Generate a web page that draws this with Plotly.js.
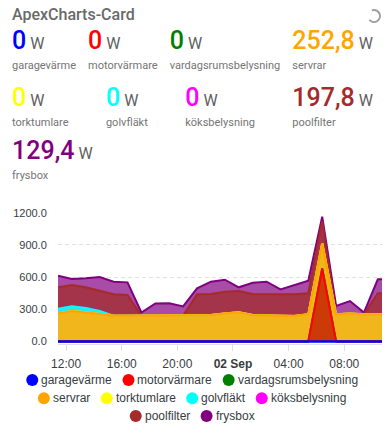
<!DOCTYPE html>
<html>
<head>
<meta charset="utf-8">
<script src="https://cdn.plot.ly/plotly-3.0.1.min.js"></script>
<style>
html,body{margin:0;padding:0;background:#fff;width:389px;height:442px;overflow:hidden;}
#chart{position:absolute;left:0;top:0;width:389px;height:442px;}
#header{position:absolute;left:0;top:0;width:389px;height:190px;z-index:5;pointer-events:none;font-family:Roboto,"Noto Sans",sans-serif;}
.title{position:absolute;left:12px;top:7px;font-size:16px;line-height:16px;font-weight:500;color:#6a6a6a;white-space:nowrap;}
.spin{position:absolute;left:366px;top:8px;}
.row{position:absolute;left:12px;width:361px;display:flex;justify-content:space-between;}
.item{display:flex;flex-direction:column;}
.val{font-size:25px;line-height:25px;font-weight:500;white-space:nowrap;}
.unit{font-size:16px;color:#5f5f5f;margin-left:4px;font-weight:400;}
.lbl{font-size:11px;line-height:11px;color:#757575;margin-top:4px;white-space:nowrap;}
</style>
</head>
<body>
<div id="chart"></div>
<div id="header">
  <div class="title" id="title"></div>
  <svg class="spin" width="16" height="16"><path d="M 5.9 2.4 A 6 6 0 1 1 3.4 11.9" stroke="#9e9e9e" stroke-width="2" fill="none"/></svg>
</div>
<script>
// ---------------- DATA ----------------
const cardTitle = 'ApexCharts-Card';
const unit = 'W';
const seriesNames = ['garagevärme','motorvärmare','vardagsrumsbelysning','servrar','torktumlare','golvfläkt','köksbelysning','poolfilter','frysbox'];
const seriesColors = ['#0000FF','#FF0000','#008000','#FFA500','#FFFF00','#00FFFF','#FF00FF','#A52A2A','#800080'];

const times = [
 '2022-09-01 11:25','2022-09-01 12:25','2022-09-01 13:25','2022-09-01 14:25','2022-09-01 15:25',
 '2022-09-01 16:25','2022-09-01 17:25','2022-09-01 18:25','2022-09-01 19:25','2022-09-01 20:25',
 '2022-09-01 21:25','2022-09-01 22:25','2022-09-01 23:25','2022-09-02 00:25','2022-09-02 01:25',
 '2022-09-02 02:25','2022-09-02 03:25','2022-09-02 04:25','2022-09-02 05:25','2022-09-02 06:25',
 '2022-09-02 07:25','2022-09-02 08:25','2022-09-02 09:25','2022-09-02 10:25','2022-09-02 10:43'
];

const garagevarme  = [0,0,0,0,0,0,0,0,0,0,0,0,0,0,0,0,0,0,0,0,0,0,0,0,0];
const motorvarmare = [0,0,0,0,0,0,0,0,0,0,0,0,0,0,0,0,0,0,0,680,0,0,0,0,0];
const vardagsrum   = [0,0,0,0,0,0,0,0,0,0,0,0,0,0,0,0,0,0,0,0,0,0,0,0,0];
const servrar      = [262,284,272,256,241,241,241,247,247,241,241,247,262,272,247,241,241,238,253,235,253,262,253,253,252.8];
const torktumlare  = [0,0,0,0,0,0,0,0,0,0,0,0,0,0,0,0,0,0,0,0,0,0,0,0,0];
const golvflakt    = [42,45,40,28,0,0,0,0,0,0,0,0,0,0,0,0,0,0,0,0,0,0,0,0,0];
const koksbelysning= [0,0,0,0,0,0,0,0,0,0,0,0,0,0,0,0,0,0,0,0,0,0,0,0,0];
const poolfilter   = [201,197,193,189,199,192,0,0,0,0,199,196,202,198,196,199,199,202,196,205,0,0,0,196,197.8];
const frysbox      = [108,56,84,128,117,118,29,108,109,86,55,114,112,35,105,117,46,86,118,43,78,115,17,130,129.4];

const xTickVals = ['2022-09-01 12:00','2022-09-01 16:00','2022-09-01 20:00','2022-09-02 00:00','2022-09-02 04:00','2022-09-02 08:00'];
const xTickText = ['12:00','16:00','20:00','<b>02 Sep</b>','04:00','08:00'];
const yTickVals = [0,300,600,900,1200];

// ---------------- STYLE ----------------
const bandFills = ['#0000FF','#CC3A08','#008000','#F1B61C','#F5D800','#2EE3F2','#E040E0','#A4344A','#A84CA8'];
const lineWidths = [2.5,2,2,2.2,2,2,2,2,2];
const legendRows = [[0,1,2],[3,4,5,6],[7,8]];
const legendRowY = [380,398.3,416];
const legendCenterX = 192;
const headerRows = [[0,1,2,3],[4,5,6,7],[8]];
const headerRowTop = [28,85,137.5];

const allSeries = [garagevarme,motorvarmare,vardagsrum,servrar,torktumlare,golvflakt,koksbelysning,poolfilter,frysbox];

// ---------------- HEADER ----------------
document.getElementById('title').textContent = cardTitle;
const header = document.getElementById('header');
function fmt(v){ return v === 0 ? '0' : v.toFixed(1).replace('.', ','); }
headerRows.forEach((row, r) => {
  const div = document.createElement('div');
  div.className = 'row';
  div.style.top = headerRowTop[r] + 'px';
  row.forEach(k => {
    const it = document.createElement('div'); it.className = 'item';
    const val = document.createElement('div'); val.className = 'val';
    const num = document.createElement('span'); num.textContent = fmt(allSeries[k][allSeries[k].length-1]); num.style.color = seriesColors[k];
    const u = document.createElement('span'); u.className = 'unit'; u.textContent = unit;
    val.appendChild(num); val.appendChild(u);
    const lb = document.createElement('div'); lb.className = 'lbl'; lb.textContent = seriesNames[k];
    it.appendChild(val); it.appendChild(lb);
    div.appendChild(it);
  });
  header.appendChild(div);
});

// ---------------- CHART ----------------
const M = {l:58, r:7, t:212, b:98};
const W = 389, H = 442;
const pw = W - M.l - M.r, ph = H - M.t - M.b;

// stacked totals (bottom first)
const cum = [];
allSeries.forEach((s, k) => {
  cum.push(s.map((v, i) => v + (k > 0 ? cum[k-1][i] : 0)));
});

// draw top series first so that lower series (lines) sit on top, like ApexCharts
const traces = [];
for (let k = allSeries.length - 1; k >= 0; k--) {
  traces.push({
    type: 'scatter', mode: 'lines', x: times, y: cum[k], name: seriesNames[k],
    fill: 'tozeroy', fillcolor: bandFills[k],
    line: {color: seriesColors[k], width: lineWidths[k]},
    hoverinfo: 'skip', showlegend: false
  });
}

// custom legend (circles + labels, rows centred)
const cvs = document.createElement('canvas').getContext('2d');
cvs.font = "12px 'Liberation Sans'";
const shapes = [], annotations = [];
const toPX = px => (px - M.l) / pw;
const toPY = py => (H - M.b - py) / ph;
legendRows.forEach((row, r) => {
  const widths = row.map(k => cvs.measureText(seriesNames[k]).width);
  const total = 6 + widths.reduce((a, w) => a + 9 + w, 0) + (row.length - 1) * 16.5;
  let cx = legendCenterX - total / 2 + 6;
  row.forEach((k, j) => {
    shapes.push({type:'circle', xref:'paper', yref:'paper', xsizemode:'pixel', ysizemode:'pixel',
      xanchor: toPX(cx), yanchor: toPY(legendRowY[r]), x0:-6, x1:6, y0:-6, y1:6,
      fillcolor: seriesColors[k], line:{width:0}});
    annotations.push({xref:'paper', yref:'paper', x: toPX(cx + 9), y: toPY(legendRowY[r]),
      xanchor:'left', yanchor:'middle', showarrow:false, text: seriesNames[k],
      borderpad:0, borderwidth:0,
      font:{family:"'Liberation Sans', Arial, sans-serif", size:12, color:'#373d3f'}});
    cx += 9 + widths[j] + 16.5;
  });
});

const layout = {
  width: W, height: H, margin: M,
  paper_bgcolor: '#ffffff', plot_bgcolor: '#ffffff', showlegend: false,
  font: {family: "'Liberation Sans', Arial, sans-serif", color: '#373d3f'},
  xaxis: {type: 'date', range: [times[0], times[times.length-1]],
    tickmode: 'array', tickvals: xTickVals, ticktext: xTickText,
    showgrid: false, zeroline: false, showline: true, linecolor: '#e0e0e0', linewidth: 1,
    ticks: 'outside', ticklen: 6, tickcolor: '#e0e0e0', ticklabelstandoff: 3,
    tickfont: {size: 12, color: '#373d3f'}, fixedrange: true},
  yaxis: {range: [-23.3, 1206.5], tickmode: 'array', tickvals: yTickVals, tickformat: '.1f',
    showgrid: true, gridcolor: '#e0e0e0', griddash: '4px,3px', zeroline: false, showline: false,
    ticks: 'outside', ticklen: 8, tickcolor: 'rgba(0,0,0,0)', tickfont: {size: 11, color: '#373d3f'}, fixedrange: true},
  shapes: shapes, annotations: annotations
};

Plotly.newPlot('chart', traces, layout, {displayModeBar: false, staticPlot: true});
</script>
</body>
</html>
